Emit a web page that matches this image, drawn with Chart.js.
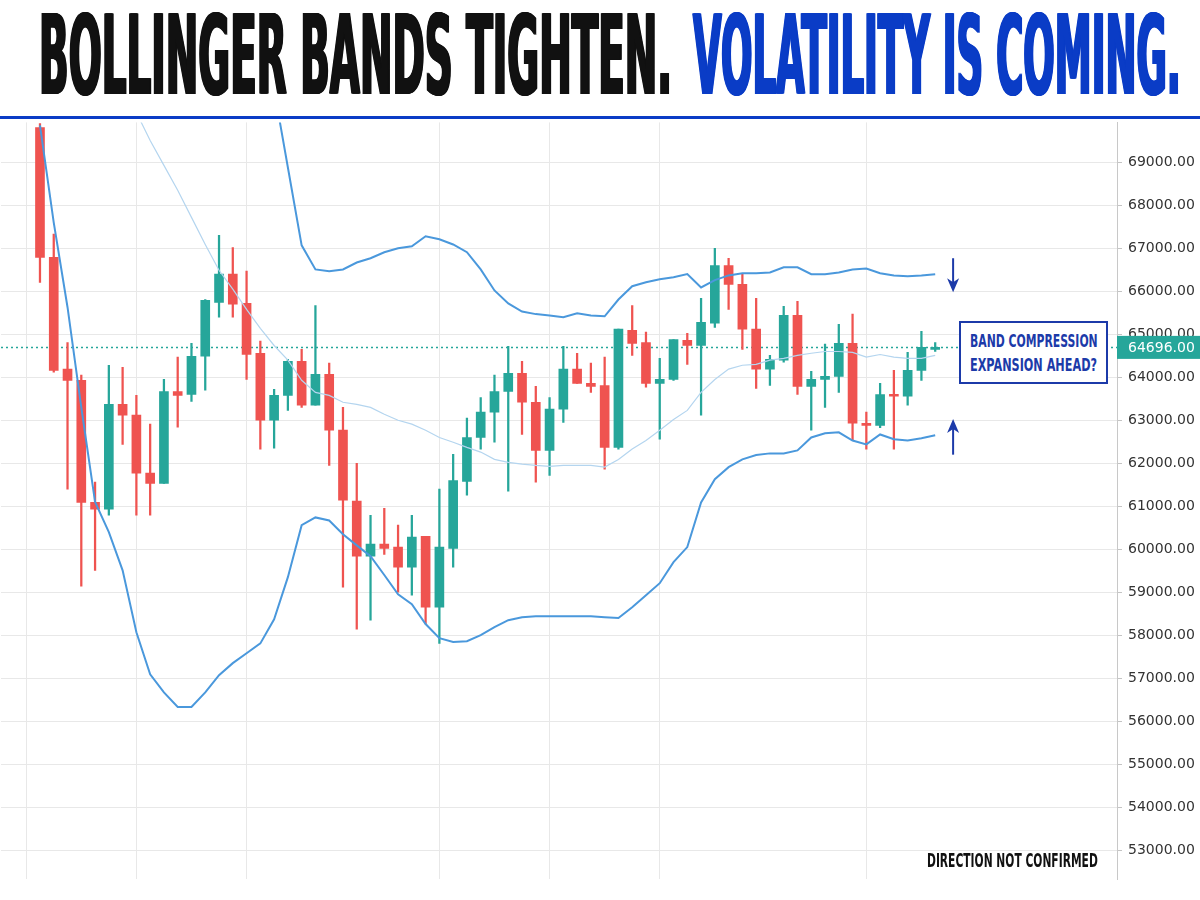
<!DOCTYPE html>
<html>
<head>
<meta charset="utf-8">
<script src="https://cdn.jsdelivr.net/npm/chart.js@4.4.1/dist/chart.umd.min.js"></script>
<style>
  body { margin: 0; width: 1200px; height: 900px; background: #fff; overflow: hidden; position: relative; }
  .fit { position: absolute; display: inline-block; white-space: nowrap; transform-origin: left top; line-height: 1;
         font-family: "DejaVu Sans Condensed", "DejaVu Sans", sans-serif; font-stretch: condensed; font-weight: bold; }
  #rule { position: absolute; left: 0; top: 116px; width: 1200px; height: 3px; background: #0a3cc6; }
  #wrap { position: absolute; left: 0; top: 107.5px; width: 1200px; height: 785.5px; }
  #note { position: absolute; left: 959px; top: 321px; width: 149px; height: 63px; box-sizing: border-box;
          border: 2px solid #1c3aa9; background: #fff; }
</style>
</head>
<body>
<div id="t1" class="fit" style="left:38px; top:1px; font-size:110px; color:#111;">BOLLINGER BANDS TIGHTEN.</div>
<div id="t2" class="fit" style="left:692px; top:1px; font-size:110px; color:#0a3cc6;">VOLATILITY IS COMING.</div>
<div id="rule"></div>
<div id="wrap"><canvas id="chart"></canvas></div>
<div id="note"></div>
<div id="n1" class="fit" style="left:970px; top:332px; font-size:18px; color:#1c3aa9;">BAND COMPRESSION</div>
<div id="n2" class="fit" style="left:970px; top:356px; font-size:18px; color:#1c3aa9;">EXPANSION AHEAD?</div>
<div id="n3" class="fit" style="left:927px; top:851px; font-size:19px; color:#111;">DIRECTION NOT CONFIRMED</div>
<script>
// candles
const opens  = [69810,66790,64190,63930,61090,60930,63370,63120,61770,61530,63670,63600,64490,65740,66400,65720,
                64560,63000,63580,64370,63350,64070,62770,61120,59840,60120,60050,59580,60300,58650,60020,61580,
                62600,63190,63670,64090,63420,62300,63260,64190,63860,63810,62370,65090,64810,63860,63950,64860,
                64740,65260,66600,66160,65120,64190,64400,65440,63790,63950,64020,64790,62930,62880,63600,63560,
                64160,64650];
const highs  = [69900,67330,64810,64050,61560,64280,64230,63580,62910,63950,64470,64790,65810,67300,67020,66470,
                64840,63720,64420,64650,65670,64330,63300,62000,60790,60950,60560,60790,60300,61400,62210,63050,
                63530,64050,64720,64370,63790,63530,64720,64560,64330,64470,65120,65670,65050,64440,64880,65020,
                65840,67000,66770,66400,65840,64510,65650,65770,64140,64770,65230,65470,63190,63860,64160,64580,
                65070,64810];
const lows   = [66210,64120,61400,59140,59510,60790,62440,60790,60790,61530,62840,63440,63700,65400,65400,63950,
                62330,62350,63230,63300,63350,61950,59120,58140,58350,59880,59000,58930,58260,57810,59580,61260,
                62330,62490,61350,62670,61560,61720,62950,63860,63650,61860,62330,64510,63770,62560,63930,64300,
                63120,65160,65580,64650,63740,63810,64350,63600,62770,63300,63650,62530,62330,62830,62330,63350,
                63930,64600];
const closes = [66790,64160,63930,61090,60930,63370,63120,61770,61530,63670,63580,64490,65790,66400,65700,64530,
                63000,63580,64370,63350,64070,62770,61140,59840,60120,60020,59580,60280,58650,60050,61600,62600,
                63190,63670,64090,63420,62300,63260,64190,63860,63790,62370,65120,64790,63860,63950,64880,64740,
                65280,66600,66160,65120,64190,64420,65440,63790,63950,64020,64790,62930,62880,63600,63560,64160,
                64700,64696];

// bollinger bands (null where the band is above the visible range)
const upperBand = [null,null,null,null,null,null,null,null,null,null,null,null,null,null,null,null,
                   71600,70700,68880,67070,66510,66470,66510,66670,66770,66910,67000,67050,67280,67210,67090,66910,
                   66510,66020,65720,65530,65470,65440,65400,65490,65440,65420,65810,66120,66210,66280,66330,66400,
                   66090,66260,66370,66420,66420,66440,66560,66560,66400,66400,66440,66510,66530,66420,66370,66350,
                   66370,66400];
const middleBand = [null,null,null,null,null,null,null,70160,69510,68930,68350,67720,67090,66490,66050,65580,
                    65140,64740,64400,63930,63650,63580,63420,63370,63300,63140,63000,62910,62770,62600,62490,62370,
                    62260,62090,62020,61980,61950,61930,61950,61950,61950,61910,62090,62330,62530,62770,63020,63230,
                    63650,63950,64190,64280,64300,64400,64440,64510,64560,64600,64600,64580,64470,64530,64470,64440,
                    64440,64510];
const lowerBand = [69860,67600,65630,63300,61100,60400,59510,58070,57090,56670,56330,56330,56670,57070,57350,57580,
                   57810,58370,59350,60560,60740,60670,60350,60090,59840,59400,58950,58720,58260,57930,57840,57860,
                   58000,58190,58350,58420,58440,58440,58440,58440,58440,58420,58400,58650,58930,59210,59700,60050,
                   61090,61630,61910,62090,62190,62230,62230,62300,62600,62700,62720,62530,62440,62670,62560,62530,
                   62580,62650];

const lastPrice = 64696;
const priceTicks = [53000,54000,55000,56000,57000,58000,59000,60000,61000,62000,63000,64000,65000,66000,67000,68000,69000];
const timeGrid = [-1, 7, 15, 29, 37, 45, 60]; // vertical grid lines (candle index)

const UP = '#26a69a';
const DOWN = '#ef5350';
const BAND = '#4a98dc';
const MID = '#b4d5ef';
const NOTE = '#1c3aa9';

const candleColors = closes.map((c, i) => c >= opens[i] ? UP : DOWN);
const wickData = highs.map((h, i) => ({ x: i, y: [lows[i], h] }));
const bodyData = opens.map((o, i) => ({ x: i, y: [o, closes[i]] }));
const asPoints = (arr) => arr.map((v, i) => ({ x: i, y: v }));

// squeeze the condensed headline texts into their widths
const fit = (id, width, thicken) => {
    const el = document.getElementById(id);
    const s = (width - thicken) / el.offsetWidth;
    el.style.transform = `scaleX(${s})`;
    if (thicken) {
        const shadows = [];
        for (let d = 0.5; d <= thicken; d += 0.5) shadows.push(`${(d / s).toFixed(2)}px 0 0 currentColor`);
        el.style.textShadow = shadows.join(',');
    }
};
fit('t1', 635, 2);
fit('t2', 490, 2);
fit('n1', 128, 0);
fit('n2', 127, 0);
fit('n3', 171, 0);

const drawArrow = (ctx, x, yTail, yTip) => {
    const dir = yTip > yTail ? 1 : -1;
    ctx.save();
    ctx.strokeStyle = NOTE;
    ctx.fillStyle = NOTE;
    ctx.lineWidth = 2;
    ctx.beginPath();
    ctx.moveTo(x, yTail);
    ctx.lineTo(x, yTip - dir * 8);
    ctx.stroke();
    ctx.beginPath();
    ctx.moveTo(x, yTip);
    ctx.lineTo(x - 6, yTip - dir * 14);
    ctx.lineTo(x, yTip - dir * 10);
    ctx.lineTo(x + 6, yTip - dir * 14);
    ctx.closePath();
    ctx.fill();
    ctx.restore();
};

const extras = {
    id: 'extras',
    beforeDatasetsDraw(chart) {
        const { ctx, chartArea, scales } = chart;
        const y = Math.round(scales.y.getPixelForValue(lastPrice)) + 0.5;
        ctx.save();
        ctx.strokeStyle = UP;
        ctx.lineWidth = 1.5;
        ctx.setLineDash([2, 3]);
        ctx.beginPath();
        ctx.moveTo(chartArea.left, y);
        ctx.lineTo(chartArea.right, y);
        ctx.stroke();
        ctx.restore();
    },
    afterDraw(chart) {
        const { ctx, chartArea, scales } = chart;
        const y = scales.y.getPixelForValue(lastPrice);
        ctx.save();
        ctx.fillStyle = UP;
        ctx.fillRect(chartArea.right, y - 11.5, chart.width - chartArea.right, 23);
        ctx.fillStyle = '#fff';
        ctx.font = '14px "DejaVu Sans"';
        ctx.textBaseline = 'middle';
        ctx.fillText(lastPrice.toFixed(2), chartArea.right + 11, y + 1);
        ctx.restore();

        const ax = scales.x.getPixelForValue(66.3);
        drawArrow(ctx, ax, scales.y.getPixelForValue(66770), scales.y.getPixelForValue(65980));
        drawArrow(ctx, ax, scales.y.getPixelForValue(62200), scales.y.getPixelForValue(63030));
    }
};

new Chart(document.getElementById('chart'), {
    type: 'bar',
    data: {
        datasets: [
            { type: 'line', label: 'Upper', data: asPoints(upperBand), borderColor: BAND, borderWidth: 2,
              pointRadius: 0, tension: 0, order: 0 },
            { type: 'line', label: 'Basis', data: asPoints(middleBand), borderColor: MID, borderWidth: 1.2,
              pointRadius: 0, tension: 0, order: 0 },
            { type: 'line', label: 'Lower', data: asPoints(lowerBand), borderColor: BAND, borderWidth: 2,
              pointRadius: 0, tension: 0, order: 0 },
            { label: 'Body', data: bodyData, backgroundColor: candleColors, barThickness: 9, minBarLength: 2,
              grouped: false, order: 1 },
            { label: 'Wick', data: wickData, backgroundColor: candleColors, barThickness: 1.6,
              grouped: false, order: 2 },
        ],
    },
    options: {
        responsive: true,
        maintainAspectRatio: false,
        devicePixelRatio: 1,
        animation: false,
        layout: { padding: 0 },
        plugins: {
            legend: { display: false },
            tooltip: { enabled: false },
        },
        scales: {
            x: {
                type: 'linear',
                offset: false,
                min: -2.83,
                max: 78.2,
                afterBuildTicks: (scale) => { scale.ticks = timeGrid.map((v) => ({ value: v })); },
                ticks: { display: false },
                grid: { color: '#e8e8e8', drawTicks: false, offset: false },
                border: { display: false },
            },
            y: {
                position: 'right',
                min: 52326,
                max: 69930,
                afterBuildTicks: (scale) => { scale.ticks = priceTicks.map((v) => ({ value: v })); },
                afterFit: (scale) => { scale.width = 83; },
                ticks: {
                    padding: 6,
                    color: '#333',
                    font: { family: 'DejaVu Sans', size: 14 },
                    callback: (v) => Number(v).toFixed(2),
                },
                grid: { color: '#e8e8e8', tickLength: 5, tickColor: '#c4c4c4' },
                border: { color: '#c8c8c8' },
            },
        },
    },
    plugins: [extras],
});
</script>
</body>
</html>
